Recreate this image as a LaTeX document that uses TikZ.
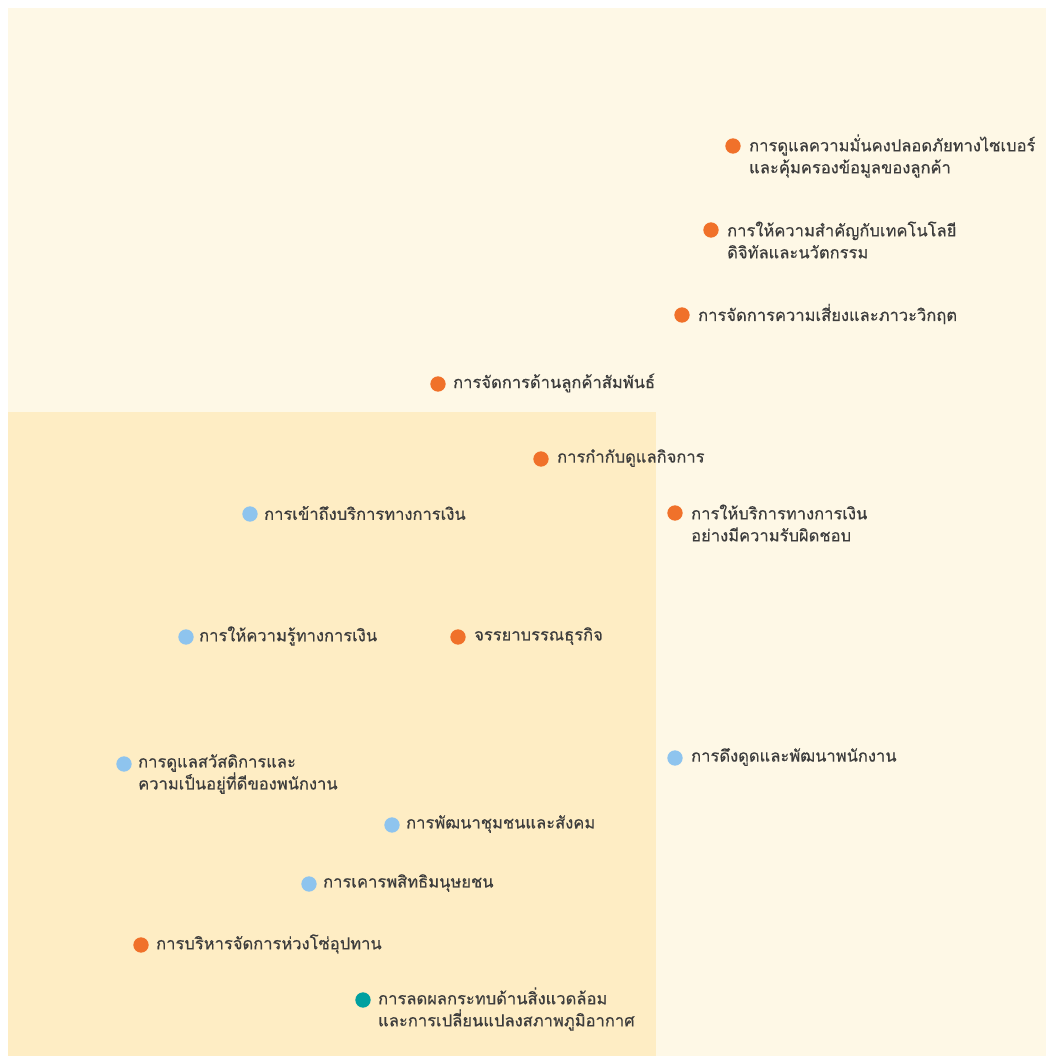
\documentclass[tikz,border=0pt]{standalone}
\usepackage{fontspec}
\newfontfamily\thaifont[Script=Thai,FakeBold=0.5]{Loma}
\usetikzlibrary{calc}
\definecolor{bgout}{HTML}{FEF8E6}
\definecolor{bgin}{HTML}{FEEDC4}
\definecolor{dotor}{HTML}{F0712A}
\definecolor{dotbl}{HTML}{8EC4EE}
\definecolor{dotte}{HTML}{00A0A0}
\definecolor{txt}{HTML}{3C3C3C}
\tikzset{
  dotbase/.style={circle, minimum size=11.5pt, inner sep=0pt},
  dor/.style={dotbase, fill=dotor},
  dbl/.style={dotbase, fill=dotbl},
  dte/.style={dotbase, fill=dotte},
  lab/.style={font=\thaifont\fontsize{12.4pt}{16.5pt}\selectfont, text=txt, align=left, inner sep=0pt, anchor=west},
}
\begin{document}
\begin{tikzpicture}[x=0.75pt,y=-0.75pt]
\useasboundingbox (0,0) rectangle (1046,1056);
\fill[white] (0,0) rectangle (1046,1056);
\fill[bgout] (8,8) rectangle (1046,1056);
\fill[bgin] (8,412) rectangle (656,1056);
% dots
\node[dor] (d1) at (733,146) {};
\node[dor] (d2) at (711,230) {};
\node[dor] (d3) at (682,315) {};
\node[dor] (d4) at (438,384) {};
\node[dor] (d5) at (541,459) {};
\node[dor] (d6) at (675,513) {};
\node[dbl] (d7) at (250,514) {};
\node[dbl] (d8) at (186,637) {};
\node[dor] (d9) at (458,637) {};
\node[dbl] (d10) at (124,764) {};
\node[dbl] (d11) at (675,758) {};
\node[dbl] (d12) at (392,825) {};
\node[dbl] (d13) at (309,884) {};
\node[dor] (d14) at (141,945) {};
\node[dte] (d15) at (363,1000) {};
% labels
\node[lab] (t1) at ($(d1.east)+(8,10)$) {การดูแลความมั่นคงปลอดภัยทางไซเบอร์\\และคุ้มครองข้อมูลของลูกค้า};
\node[lab] (t2) at ($(d2.east)+(8,10)$) {การให้ความสำคัญกับเทคโนโลยี\\ดิจิทัลและนวัตกรรม};
\node[lab] (t3) at ($(d3.east)+(8,-1)$) {การจัดการความเสี่ยงและภาวะวิกฤต};
\node[lab] (t4) at ($(d4.east)+(7,-1)$) {การจัดการด้านลูกค้าสัมพันธ์};
\node[lab] (t5) at ($(d5.east)+(8,-1)$) {การกำกับดูแลกิจการ};
\node[lab] (t6) at ($(d6.east)+(8,10)$) {การให้บริการทางการเงิน\\อย่างมีความรับผิดชอบ};
\node[lab] (t7) at ($(d7.east)+(6,-1)$) {การเข้าถึงบริการทางการเงิน};
\node[lab] (t8) at ($(d8.east)+(5,-1)$) {การให้ความรู้ทางการเงิน};
\node[lab] (t9) at ($(d9.east)+(8,-1)$) {จรรยาบรรณธุรกิจ};
\node[lab] (t10) at ($(d10.east)+(6,10)$) {การดูแลสวัสดิการและ\\ความเป็นอยู่ที่ดีของพนักงาน};
\node[lab] (t11) at ($(d11.east)+(8,-1)$) {การดึงดูดและพัฒนาพนักงาน};
\node[lab] (t12) at ($(d12.east)+(6,-1)$) {การพัฒนาชุมชนและสังคม};
\node[lab] (t13) at ($(d13.east)+(6,-1)$) {การเคารพสิทธิมนุษยชน};
\node[lab] (t14) at ($(d14.east)+(7,-1)$) {การบริหารจัดการห่วงโซ่อุปทาน};
\node[lab] (t15) at ($(d15.east)+(7,9)$) {การลดผลกระทบด้านสิ่งแวดล้อม\\และการเปลี่ยนแปลงสภาพภูมิอากาศ};
\end{tikzpicture}
\end{document}
